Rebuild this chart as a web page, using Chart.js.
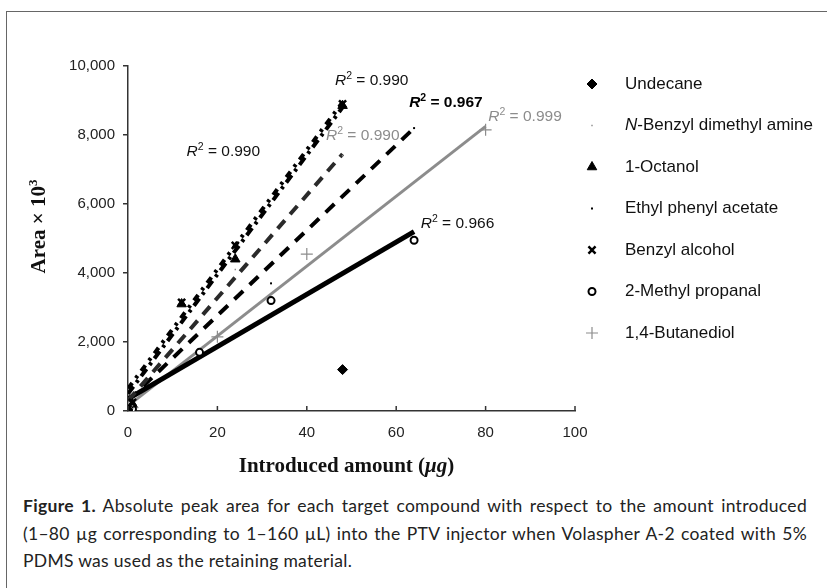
<!DOCTYPE html>
<html>
<head>
<meta charset="utf-8">
<script src="https://cdn.jsdelivr.net/npm/chart.js@4.4.0/dist/chart.umd.min.js"></script>
<style>
  body { margin: 0; background: #fff; }
  #wrap { position: relative; width: 827px; height: 588px; overflow: hidden; }
  #frame { position: absolute; left: 6px; top: 11px; width: 900px; height: 700px;
           border-top: 1.5px solid #666; border-left: 1.5px solid #666; }
  #chart { position: absolute; left: 0; top: 0; }
  #caption { position: absolute; left: 23px; top: 492px; width: 784px;
             font-family: Lato, "Open Sans", sans-serif; font-size: 17.5px; letter-spacing: 0.3px;
             line-height: 27.5px; color: #222; }
  #caption div { text-align: justify; text-align-last: justify; white-space: nowrap; }
  #caption div.last { text-align-last: left; }
</style>
</head>
<body>
<div id="wrap">
  <div id="frame"></div>
  <canvas id="chart" width="827" height="480"></canvas>
  <div id="caption">
    <div><b>Figure 1.</b> Absolute peak area for each target compound with respect to the amount introduced</div>
    <div>(1–80 µg corresponding to 1–160 µL) into the PTV injector when Volaspher A-2 coated with 5%</div>
    <div class="last">PDMS was used as the retaining material.</div>
  </div>
</div>
<script>
// series (measured points)
const seriesNames = ["Undecane", "N-Benzyl dimethyl amine", "1-Octanol", "Ethyl phenyl acetate",
                     "Benzyl alcohol", "2-Methyl propanal", "1,4-Butanediol"];
const undecaneX = [0, 48];
const undecaneY = [30, 1200];
const benzylAmineX = [1, 24, 48];
const benzylAmineY = [150, 4100, 7400];
const octanolX = [1, 12, 24, 48];
const octanolY = [200, 3100, 4400, 8850];
const ethylAcetateX = [1, 32, 64];
const ethylAcetateY = [100, 3700, 8200];
const benzylAlcoholX = [1, 12, 24, 48];
const benzylAlcoholY = [250, 3150, 4800, 8900];
const methylPropanalX = [1, 16, 32, 64];
const methylPropanalY = [60, 1700, 3200, 4950];
const butanediolX = [1, 20, 40, 80];
const butanediolY = [100, 2150, 4550, 8150];

// linear trend lines (index into seriesNames)
const trendSeries = [1, 2, 3, 4, 5, 6];
const trendStartX = [0, 0, 0, 0, 0, 0];
const trendStartY = [300, 500, 300, 650, 350, 150];
const trendEndX = [48, 48, 64, 48, 64, 80];
const trendEndY = [7450, 8800, 8200, 8950, 5200, 8250];

// R² labels, anchored in data units
const r2Text = ["0.990", "0.990", "0.967", "0.990", "0.966", "0.999"];
const r2AtX = [44.3, 13.1, 62.9, 46.3, 65.5, 80.6];
const r2AtY = [7850, 7400, 8820, 9450, 5300, 8420];

// axis ticks
const xTicks = [0, 20, 40, 60, 80, 100];
const yTicks = [0, 2000, 4000, 6000, 8000, 10000];

const GRAY = "#8c8c8c";
const pointStyles = [
  { pointStyle: "rectRot", radius: 5, bg: "#000", border: "#000", bw: 1 },
  { pointStyle: "rect", radius: 1, bg: GRAY, border: GRAY, bw: 0 },
  { pointStyle: "triangle", radius: 5.5, bg: "#000", border: "#000", bw: 1 },
  { pointStyle: "rect", radius: 1.4, bg: "#000", border: "#000", bw: 0 },
  { pointStyle: "crossRot", radius: 5, bg: "#000", border: "#000", bw: 2.5 },
  { pointStyle: "circle", radius: 3.5, bg: "#fff", border: "#000", bw: 2 },
  { pointStyle: "cross", radius: 6, bg: GRAY, border: GRAY, bw: 1.2 },
];
const trendStyles = [
  { color: "#2a2a2a", width: 4, dash: [11, 8] },
  { color: "#000", width: 4, dash: [9, 5, 3, 5] },
  { color: "#000", width: 4, dash: [12, 9] },
  { color: "#000", width: 4, dash: [7, 6, 3, 6] },
  { color: "#000", width: 5, dash: [] },
  { color: GRAY, width: 3, dash: [] },
];
const r2Styles = [
  { color: GRAY, bold: false },
  { color: "#111", bold: false },
  { color: "#000", bold: true },
  { color: "#111", bold: false },
  { color: "#111", bold: false },
  { color: GRAY, bold: false },
];

const seriesX = [undecaneX, benzylAmineX, octanolX, ethylAcetateX, benzylAlcoholX, methylPropanalX, butanediolX];
const seriesY = [undecaneY, benzylAmineY, octanolY, ethylAcetateY, benzylAlcoholY, methylPropanalY, butanediolY];

function toPoints(xs, ys) {
  return xs.map((x, i) => ({ x, y: ys[i] }));
}

const datasets = [];
seriesNames.forEach((name, i) => {
  const s = pointStyles[i];
  datasets.push({
    label: name,
    data: toPoints(seriesX[i], seriesY[i]),
    showLine: false,
    pointStyle: s.pointStyle,
    pointRadius: s.radius,
    pointBackgroundColor: s.bg,
    pointBorderColor: s.border,
    pointBorderWidth: s.bw,
    order: 0,
  });
});
trendSeries.forEach((si, i) => {
  const t = trendStyles[i];
  datasets.push({
    label: seriesNames[si] + " trend",
    data: toPoints([trendStartX[i], trendEndX[i]], [trendStartY[i], trendEndY[i]]),
    showLine: true,
    pointRadius: 0,
    borderColor: t.color,
    borderWidth: t.width,
    borderDash: t.dash,
    borderCapStyle: "butt",
    order: 1,
  });
});

function drawMarker(ctx, s, x, y) {
  ctx.fillStyle = s.bg;
  ctx.strokeStyle = s.border;
  ctx.lineWidth = s.bw;
  if (Chart.helpers && Chart.helpers.drawPoint) {
    Chart.helpers.drawPoint(ctx, { pointStyle: s.pointStyle, radius: s.radius, borderWidth: s.bw, rotation: 0 }, x, y);
  } else {
    ctx.fillRect(x - s.radius, y - s.radius, s.radius * 2, s.radius * 2);
  }
}

function drawR2(ctx, px, py, val, style) {
  const w = style.bold ? "bold " : "";
  ctx.fillStyle = style.color;
  ctx.textAlign = "left";
  ctx.textBaseline = "alphabetic";
  ctx.font = "italic " + w + "15.5px 'Liberation Sans'";
  ctx.fillText("R", px, py);
  let cx = px + ctx.measureText("R").width;
  ctx.font = w + "10.5px 'Liberation Sans'";
  ctx.fillText("2", cx, py - 6);
  cx += ctx.measureText("2").width;
  ctx.font = w + "15.5px 'Liberation Sans'";
  ctx.fillText(" = " + val, cx, py);
}

const decor = {
  id: "decor",
  afterDraw(chart) {
    const { ctx, chartArea: a } = chart;
    const xs = chart.scales.x, ys = chart.scales.y;
    ctx.save();

    // x ticks point inward
    ctx.strokeStyle = "#333";
    ctx.lineWidth = 1.5;
    xTicks.forEach((v) => {
      const px = xs.getPixelForValue(v);
      ctx.beginPath();
      ctx.moveTo(px, a.bottom);
      ctx.lineTo(px, a.bottom - 5);
      ctx.stroke();
    });

    // R² labels
    r2Text.forEach((val, i) => {
      drawR2(ctx, xs.getPixelForValue(r2AtX[i]), ys.getPixelForValue(r2AtY[i]), val, r2Styles[i]);
    });

    // legend
    const lx = 592, ly = 84, step = 41.5;
    seriesNames.forEach((name, i) => {
      const y = ly + i * step;
      drawMarker(ctx, pointStyles[i], lx, y);
      ctx.fillStyle = "#111";
      ctx.textBaseline = "middle";
      ctx.textAlign = "left";
      let tx = 625;
      if (name.startsWith("N-")) {
        ctx.font = "italic 17px 'Liberation Sans'";
        ctx.fillText("N", tx, y);
        tx += ctx.measureText("N").width;
        ctx.font = "17px 'Liberation Sans'";
        ctx.fillText(name.slice(1), tx, y);
      } else {
        ctx.font = "17px 'Liberation Sans'";
        ctx.fillText(name, tx, y);
      }
    });

    // x title
    ctx.fillStyle = "#111";
    ctx.textBaseline = "alphabetic";
    ctx.textAlign = "left";
    const parts = [
      ["Introduced amount (", "bold 21px 'Liberation Serif'"],
      ["\u03bcg", "italic bold 21px 'Liberation Serif'"],
      [")", "bold 21px 'Liberation Serif'"],
    ];
    let total = 0;
    parts.forEach((p) => { ctx.font = p[1]; total += ctx.measureText(p[0]).width; });
    let tx = (a.left + a.right) / 2 - 5 - total / 2;
    parts.forEach((p) => { ctx.font = p[1]; ctx.fillText(p[0], tx, 472); tx += ctx.measureText(p[0]).width; });

    // y title
    ctx.save();
    ctx.translate(45, (a.top + a.bottom) / 2 - 12);
    ctx.rotate(-Math.PI / 2);
    ctx.font = "bold 21px 'Liberation Serif'";
    const main = "Area \u00d7 10";
    const mw = ctx.measureText(main).width;
    ctx.font = "bold 13px 'Liberation Serif'";
    const sw = ctx.measureText("3").width;
    ctx.font = "bold 21px 'Liberation Serif'";
    ctx.fillText(main, -(mw + sw) / 2, 0);
    ctx.font = "bold 13px 'Liberation Serif'";
    ctx.fillText("3", -(mw + sw) / 2 + mw, -8);
    ctx.restore();

    ctx.restore();
  },
};

new Chart(document.getElementById("chart"), {
  type: "scatter",
  data: { datasets },
  options: {
    responsive: false,
    animation: false,
    devicePixelRatio: 1,
    layout: { padding: { left: 0, top: 66, right: 252, bottom: 0 } },
    plugins: { legend: { display: false }, tooltip: { enabled: false } },
    scales: {
      x: {
        type: "linear",
        min: 0,
        max: 100,
        afterBuildTicks: (scale) => { scale.ticks = xTicks.map((v) => ({ value: v })); },
        afterFit: (scale) => { scale.height = 69; },
        grid: { drawOnChartArea: false, drawTicks: false },
        border: { color: "#333", width: 1.5 },
        ticks: { color: "#222", padding: 13, font: { family: "'Liberation Sans'", size: 15 }, maxRotation: 0 },
      },
      y: {
        type: "linear",
        min: 0,
        max: 10000,
        afterBuildTicks: (scale) => { scale.ticks = yTicks.map((v) => ({ value: v })); },
        afterFit: (scale) => { scale.width = 128; },
        grid: { drawOnChartArea: false, drawTicks: true, tickLength: 5, color: "#333", lineWidth: 1.5 },
        border: { color: "#333", width: 1.5 },
        ticks: {
          color: "#222",
          padding: 8,
          font: { family: "'Liberation Sans'", size: 15 },
          callback: (v) => Number(v).toLocaleString("en-US"),
        },
      },
    },
  },
  plugins: [decor],
});
</script>
</body>
</html>
